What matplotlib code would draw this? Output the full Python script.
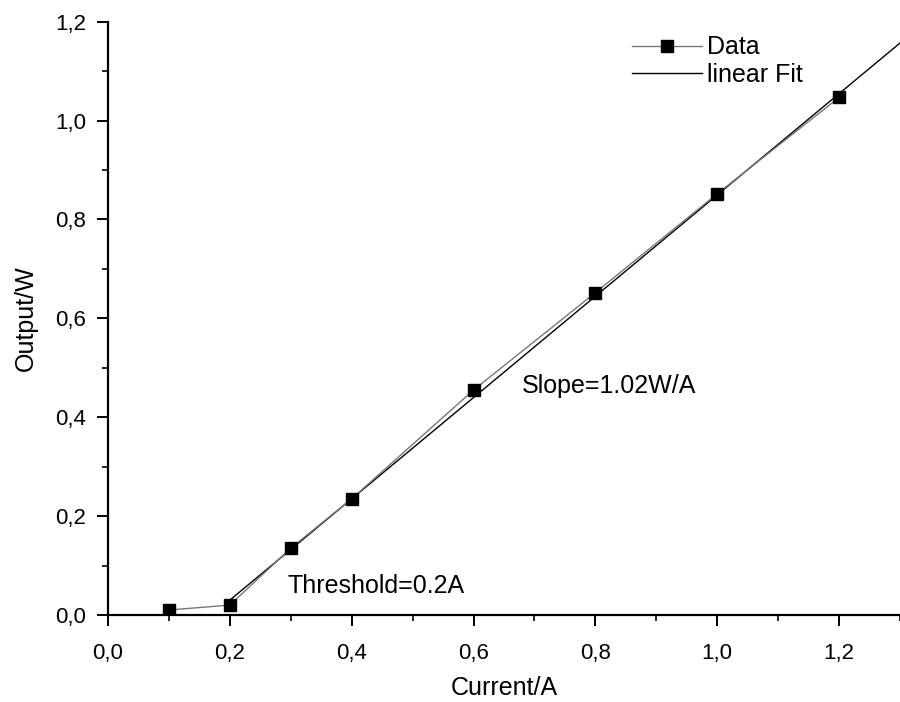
import numpy as np
import matplotlib.pyplot as plt
from matplotlib.ticker import MultipleLocator, FuncFormatter

plt.rcParams['font.family'] = ['Liberation Sans', 'DejaVu Sans']

# measured points
current = [0.1, 0.2, 0.3, 0.4, 0.6, 0.8, 1.0, 1.2]
output = [0.01, 0.02, 0.135, 0.235, 0.455, 0.652, 0.852, 1.047]

# linear fit line as drawn (start / end)
fit_x = [0.2, 1.3]
fit_y = [0.03, 1.157]

fig = plt.figure(figsize=(9, 7.02), dpi=100)
ax = fig.add_axes([0.12, 0.124, 0.88, 0.845])

ax.plot(current, output, color='#777777', lw=1.0, marker='s', ms=9,
        mfc='black', mec='black', label='Data', zorder=3)
ax.plot(fit_x, fit_y, color='black', lw=1.0, label='linear Fit', zorder=2)

ax.set_xlim(0, 1.3)
ax.set_ylim(0, 1.2)
ax.xaxis.set_major_locator(MultipleLocator(0.2))
ax.xaxis.set_minor_locator(MultipleLocator(0.1))
ax.yaxis.set_major_locator(MultipleLocator(0.2))
ax.yaxis.set_minor_locator(MultipleLocator(0.1))
comma = FuncFormatter(lambda v, p: ('%.1f' % v).replace('.', ','))
ax.xaxis.set_major_formatter(comma)
ax.yaxis.set_major_formatter(comma)

ax.spines['top'].set_visible(False)
ax.spines['right'].set_visible(False)
for s in ('left', 'bottom'):
    ax.spines[s].set_linewidth(1.6)
ax.tick_params(which='major', length=8, width=1.4, labelsize=16, pad=12)
ax.tick_params(axis='y', which='major', pad=8)
ax.tick_params(which='minor', length=4, width=1.2)

ax.set_xlabel('Current/A', fontsize=18, labelpad=9)
ax.set_ylabel('Output/W', fontsize=18, labelpad=12)

ax.text(0.68, 0.45, 'Slope=1.02W/A', fontsize=18)
ax.text(0.295, 0.045, 'Threshold=0.2A', fontsize=18)

ax.legend(loc='upper right', bbox_to_anchor=(0.905, 1.015), frameon=False,
          fontsize=18, handlelength=2.8, handletextpad=0.2, labelspacing=0.15)

fig.savefig('out.png', dpi=100)
